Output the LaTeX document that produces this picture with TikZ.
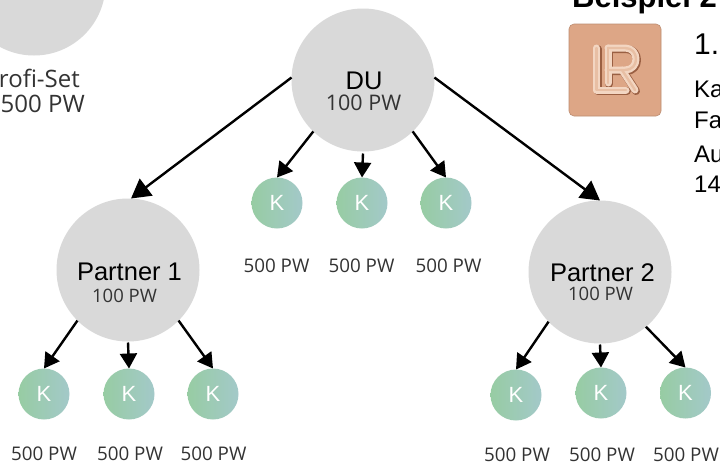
\documentclass[tikz,border=0pt]{standalone}
\usepackage{fontspec}
\setmainfont{Open Sans}
\newfontfamily\arialf{Liberation Sans}
\usetikzlibrary{arrows.meta}
\definecolor{greyc}{HTML}{D9D9D9}
\definecolor{gl}{HTML}{97CCA3}
\definecolor{gr}{HTML}{A3C9C9}
\definecolor{cop}{HTML}{DDA686}
\definecolor{copl}{HTML}{F3D6C2}
\definecolor{copm}{HTML}{E8BFA4}
\definecolor{copd}{HTML}{9A5F42}
\definecolor{txt}{HTML}{333333}
\tikzset{
  x=1pt,y=-1pt,
  big/.style={circle,fill=greyc,minimum size=143pt,inner sep=0,outer sep=0},
  kc/.style={circle,left color=gl,right color=gr,minimum size=51pt,inner sep=0,outer sep=0,text=white,font=\arialf\fontsize{22}{22}\selectfont},
  arr/.style={draw=black,line width=2.4pt,-{Triangle[length=15pt,width=17pt]}},
  arrb/.style={draw=black,line width=2.4pt,-{Triangle[length=19pt,width=21pt]}},
  ttl/.style={font=\arialf\fontsize{25.5}{26}\selectfont,text=black,inner sep=0,anchor=base},
  sub/.style={font=\fontsize{18.5}{18}\selectfont,text=txt,inner sep=0,anchor=base},
  subl/.style={font=\fontsize{21.5}{22}\selectfont,text=txt,inner sep=0,anchor=base},
  pw/.style={font=\fontsize{18.8}{19}\selectfont,text=txt,inner sep=0,anchor=base},
  setl/.style={font=\fontsize{24}{24}\selectfont,text=txt,inner sep=0,anchor=base east},
  rt/.style={font=\arialf\fontsize{24}{24}\selectfont,text=black,inner sep=0,anchor=base west},
}
\begin{document}
\begin{tikzpicture}
\useasboundingbox (0,0) rectangle (720,463);
\clip (0,0) rectangle (720,463);
\fill[white] (0,0) rectangle (720,463);
% circles
\node[big] (setc) at (34,-16) {};
\node[big] (du) at (363,80) {};
\node[big] (pa) at (128,270) {};
\node[big] (pb) at (600,272) {};
\node[kc] (k1) at (277,203) {K};
\node[kc] (k2) at (362,203) {K};
\node[kc] (k3) at (446,203) {K};
\node[kc] (k4) at (44,394) {K};
\node[kc] (k5) at (129,394) {K};
\node[kc] (k6) at (213,394) {K};
\node[kc] (k7) at (516,395) {K};
\node[kc] (k8) at (601,393) {K};
\node[kc] (k9) at (685.5,393) {K};
% arrows
\draw[arrb] (du.178) -- ([xshift=3pt]pa.north);
\draw[arrb] (du.2) -- (pb.north);
\draw[arr] (du.226) -- (k1.north);
\draw[arr] ([yshift=-2pt]du.south) -- (k2.north);
\draw[arr] (du.-46) -- (k3.north);
\draw[arr] (pa.225) -- (k4.north);
\draw[arr] ([yshift=-1pt]pa.south) -- (k5.north);
\draw[arr] (pa.-45) -- (k6.north);
\draw[arr] (pb.224) -- (k7.north);
\draw[arr] ([yshift=-1pt]pb.south) -- (k8.north);
\draw[arr] (pb.-50) -- (k9.north);
% circle labels
\node[ttl] (t1) at (364,89) {DU};
\node[subl] (t2) at (363.5,110) {100 PW};
\node[ttl] (t3) at (129.5,280) {Partner 1};
\node[sub] (t4) at (124.5,302) {100 PW};
\node[ttl] (t5) at (602.5,281) {Partner 2};
\node[sub] (t6) at (600.5,300) {100 PW};
\node[setl] (t7) at (80,87) {Profi-Set};
\node[setl] (t8) at (85,112) {1500 PW};
% PW labels
\node[pw] (l1) at (276.5,272) {500 PW};
\node[pw] (l2) at (361.5,272) {500 PW};
\node[pw] (l3) at (448.5,272) {500 PW};
\node[pw] (l4) at (44,460.5) {500 PW};
\node[pw] (l5) at (130,460.5) {500 PW};
\node[pw] (l6) at (213.5,460.5) {500 PW};
\node[pw] (l7) at (517,461.5) {500 PW};
\node[pw] (l8) at (602,461.5) {500 PW};
\node[pw] (l9) at (686,461.5) {500 PW};
% heading
\node[font=\arialf\bfseries\fontsize{31}{31}\selectfont,inner sep=0,anchor=base west] (h) at (572,8) {Beispiel 2};
% logo
\fill[rounded corners=5pt,cop,draw=cop!85!black,line width=.6pt] (569,24) rectangle (661,116);
\begin{scope}[line cap=round,line join=round]
 \foreach \c/\w/\o in {copd/8pt/1,copl/7pt/0,copm/2.4pt/0}{
  \begin{scope}[shift={(\o,\o)}]
  \draw[\c,line width=\w] (596.5,48) -- (596.5,90) -- (626,90);
  \draw[\c,line width=\w] (608,48) -- (608,83);
  \draw[\c,line width=\w] (608,48) -- (625,48) .. controls (632,48) and (636,53) .. (636,59) .. controls (636,65) and (632,70) .. (625,70) -- (608,70);
  \draw[\c,line width=\w] (622,70) -- (635,90);
  \end{scope}
 }
\end{scope}
% right text
\node[font=\arialf\fontsize{30}{30}\selectfont,inner sep=0,anchor=base west] (r0) at (694,54) {1.};
\node[rt] (r1) at (694,97) {Ka};
\node[rt] (r2) at (694,128) {Fa};
\node[rt] (r3) at (694,162) {Au};
\node[rt] (r4) at (694,192) {14};
\end{tikzpicture}
\end{document}
